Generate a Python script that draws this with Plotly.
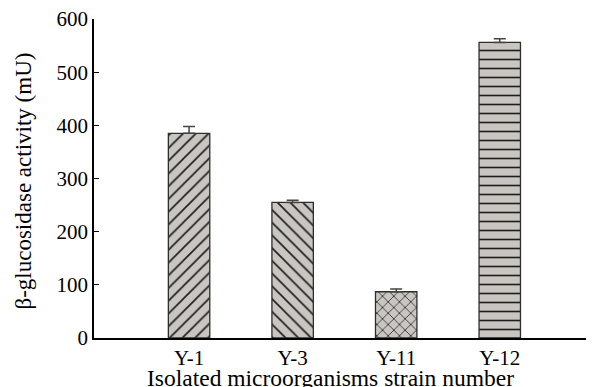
import plotly.graph_objects as go

strains = ["Y-1", "Y-3", "Y-11", "Y-12"]
activity = [385, 255, 87, 556]
error = [13, 4, 5, 7]
patterns = ["/", "\\", "x", "-"]

font_family = "Liberation Serif, Times New Roman, Times, serif"

fig = go.Figure()
fig.add_trace(go.Bar(
    x=strains,
    y=activity,
    width=0.4,
    marker=dict(
        color="#c9c5c1",
        line=dict(color="#2e2e2e", width=1.3),
        pattern=dict(shape=patterns, fgcolor="#1e1e1e", bgcolor="#c9c5c1",
                     size=[9, 9, 8, 9], solidity=0.18, fillmode="replace"),
    ),
    error_y=dict(type="data", array=error, arrayminus=[0, 0, 0, 0], symmetric=False,
                 color="#444444", thickness=1.5, width=6),
    showlegend=False,
))

# The page body adds an 8px offset, so the figure is sized 8px smaller.
fig.update_layout(
    width=586, height=379,
    margin=dict(l=86, r=0, t=11, b=49, autoexpand=False),
    paper_bgcolor="white", plot_bgcolor="white",
    font=dict(family=font_family, color="black", size=21),
    annotations=[
        dict(text="Isolated microorganisms strain number", xref="paper", yref="paper",
             x=0.472, y=-0.124, xanchor="center", yanchor="middle", showarrow=False,
             font=dict(size=23.5, family=font_family, color="black")),
        dict(text="β-glucosidase activity (mU)", xref="paper", yref="paper",
             x=-0.141, y=0.492, xanchor="center", yanchor="middle", showarrow=False,
             textangle=-90, font=dict(size=23, family=font_family, color="black")),
    ],
)
fig.update_xaxes(
    type="category",
    range=[-0.918, 3.91],
    showline=True, linecolor="black", linewidth=1.5,
    ticks="", showgrid=False, zeroline=False, automargin=False,
    tickfont=dict(size=21, family=font_family),
    ticklabeloverflow="allow",
)
fig.update_yaxes(
    range=[0, 600],
    tickvals=[0, 100, 200, 300, 400, 500, 600],
    showline=True, linecolor="black", linewidth=1.5,
    ticks="inside", ticklen=5, tickwidth=1.2, tickcolor="black",
    showgrid=False, zeroline=False, automargin=False,
    tickfont=dict(size=21, family=font_family),
    ticklabeloverflow="allow",
)

fig.write_html("out.html")
